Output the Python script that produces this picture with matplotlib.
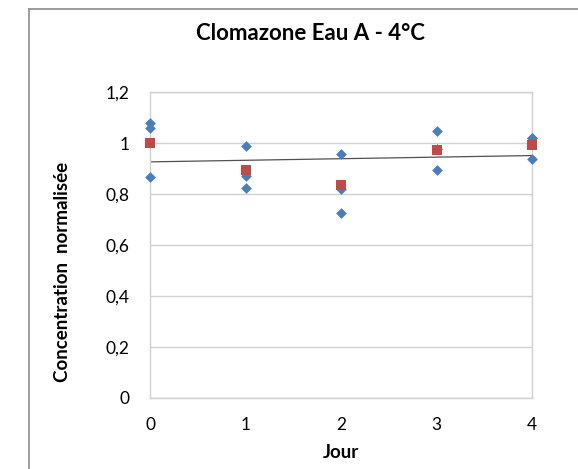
import numpy as np
import matplotlib.pyplot as plt
from matplotlib.lines import Line2D

# replicate measurements (3 per day) and their mean
days = [0, 0, 0, 1, 1, 1, 2, 2, 2, 3, 3, 3, 4, 4, 4]
conc = [1.078, 1.059, 0.867,
        0.988, 0.871, 0.824,
        0.957, 0.820, 0.725,
        1.047, 0.975, 0.894,
        1.020, 1.019, 0.937]
mean_days = [0, 1, 2, 3, 4]
mean_conc = [1.0, 0.894, 0.834, 0.972, 0.992]

plt.rcParams['font.family'] = ['Lato', 'DejaVu Sans']

fig = plt.figure(figsize=(5.78, 4.69), dpi=100)
ax = fig.add_axes([150 / 578, 1 - 398 / 469, 382 / 578, 306 / 469])

ax.scatter(days, conc, marker='D', s=30, color='#4A7EBB', zorder=3,
           linewidths=0, clip_on=False)
ax.scatter(mean_days, mean_conc, marker='s', s=55, color='#BE4B48', zorder=4,
           linewidths=0, clip_on=False)

# linear trend
p = np.polyfit(mean_days, mean_conc, 1)
xs = np.array([mean_days[0], mean_days[-1]])
ax.plot(xs, np.polyval(p, xs), color='#505050', lw=0.9, zorder=2)

ax.set_xlim(0, 4)
ax.set_ylim(0, 1.2)
ax.set_xticks([0, 1, 2, 3, 4])
ax.set_yticks([0, 0.2, 0.4, 0.6, 0.8, 1.0, 1.2])
ax.set_yticklabels(['0', '0,2', '0,4', '0,6', '0,8', '1', '1,2'])
ax.yaxis.grid(True, color='#D0D0D0', lw=1)
ax.set_axisbelow(True)
for s in ax.spines.values():
    s.set_color('#D0D0D0')
    s.set_linewidth(1)
ax.tick_params(length=0, labelsize=12.5, colors='black')
ax.tick_params(axis='x', pad=14)
ax.tick_params(axis='y', pad=15)

fig.text(341 / 578, 1 - 452 / 469, 'Jour', fontsize=13.5, fontweight='bold',
         ha='center', va='center')
fig.text(62 / 578, 1 - 272 / 469, 'Concentration  normalisée', fontsize=13.5,
         fontweight='bold', rotation=90, ha='center', va='center')
fig.text(310 / 578, 1 - 34 / 469, 'Clomazone Eau A - 4°C', fontsize=16,
         fontweight='bold', ha='center', va='center')

# outer chart frame (cropped on right and bottom)
fig.add_artist(Line2D([29 / 578, 29 / 578], [0, 1 - 9 / 469], color='#8C8C8C', lw=1.2))
fig.add_artist(Line2D([29 / 578, 1], [1 - 9 / 469, 1 - 9 / 469], color='#8C8C8C', lw=1.2))

fig.savefig('out.png', dpi=100)
